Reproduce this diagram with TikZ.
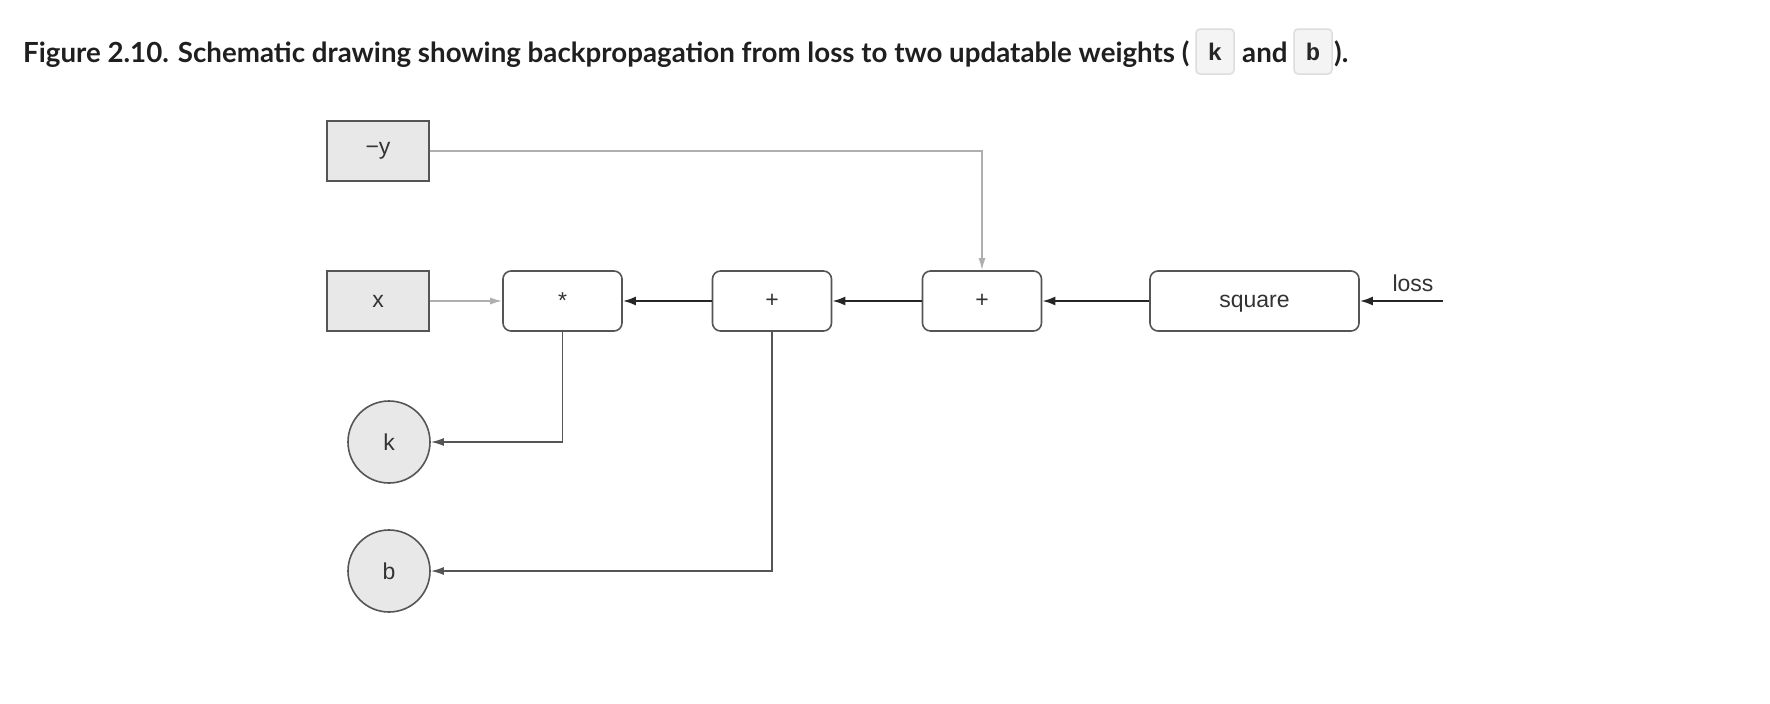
\documentclass[tikz,border=0pt]{standalone}
\usepackage{fontspec}
\setmainfont{Liberation Sans}
\newfontfamily\latofont{Lato}
\newfontfamily\codefont[BoldFont={Liberation Mono Bold}]{Liberation Mono}
\usetikzlibrary{arrows.meta}
\definecolor{edgegray}{HTML}{555555}
\definecolor{fillgray}{HTML}{E8E8E8}
\definecolor{linegray}{HTML}{AFAFAF}
\definecolor{textdark}{HTML}{333333}
\definecolor{codefill}{HTML}{F4F4F4}
\definecolor{codeedge}{HTML}{DDDDDD}
\tikzset{
  lbl/.style={font=\fontsize{23}{26}\selectfont, text=textdark, text depth=0pt},
  inbox/.style={lbl, draw=edgegray, fill=fillgray, line width=1.6pt, minimum width=102pt, minimum height=60pt, inner sep=0pt},
  opbox/.style={lbl, draw=edgegray, fill=white, line width=1.6pt, rounded corners=8pt, minimum width=119pt, minimum height=60pt, inner sep=0pt},
  wbox/.style={lbl, draw=edgegray, fill=fillgray, line width=1.6pt, circle, minimum size=82pt, inner sep=0pt},
  back/.style={draw=black!85, line width=2.2pt, -{Latex[length=13pt,width=9pt]}},
  thinback/.style={draw=edgegray, line width=1.6pt, -{Latex[length=13pt,width=8pt]}},
  fwd/.style={draw=linegray, line width=1.6pt, -{Latex[length=12pt,width=7pt]}},
  codebox/.style={draw=codeedge, fill=codefill, line width=1.5pt, rounded corners=4pt, minimum width=38pt, minimum height=45pt, inner sep=0pt, font=\codefont\bfseries\fontsize{24}{26}\selectfont, text=black!85},
  titletxt/.style={font=\latofont\bfseries\fontsize{27.7}{32}\selectfont, text=black!88, inner sep=0pt, anchor=base west}
}
\begin{document}
\begin{tikzpicture}[x=1pt,y=-1pt]
\useasboundingbox[fill=white] (0,0) rectangle (1770,704);
% title
\node[titletxt] (title) at (23,62) {Figure 2.10. Schematic drawing showing backpropagation from loss to two updatable weights (};
\node[codebox] (kcode) at (1215,51.5) {k};
\node[titletxt] (andtxt) at (1242,62) {and};
\node[codebox] (bcode) at (1313,51.5) {b};
\node[titletxt] (closetxt) at (1334,62) {).};
% nodes
\node[inbox, text depth=] (my) at (378,151) {−y};
\node[inbox] (x) at (378,301) {x};
\node[opbox] (mul) at (562.5,301) {*};
\node[opbox] (add1) at (772,301) {+};
\node[opbox] (add2) at (982,301) {+};
\node[opbox, minimum width=209pt] (sq) at (1254.5,301) {square};
\node[wbox] (k) at (389,442) {k};
\node[wbox] (b) at (389,571) {b};
\node[lbl] (losslbl) at (1413,283) {loss};
\coordinate (lossin) at (1443,301);
% connectors
\draw[fwd] (my.east) -| (add2.north);
\draw[fwd] (x.east) -- (mul.west);
\draw[back] (lossin) -- (sq.east);
\draw[back] (sq.west) -- (add2.east);
\draw[back] (add2.west) -- (add1.east);
\draw[back] (add1.west) -- (mul.east);
\draw[thinback] (mul.south) |- (k.east);
\draw[thinback] (add1.south) |- (b.east);
\end{tikzpicture}
\end{document}
